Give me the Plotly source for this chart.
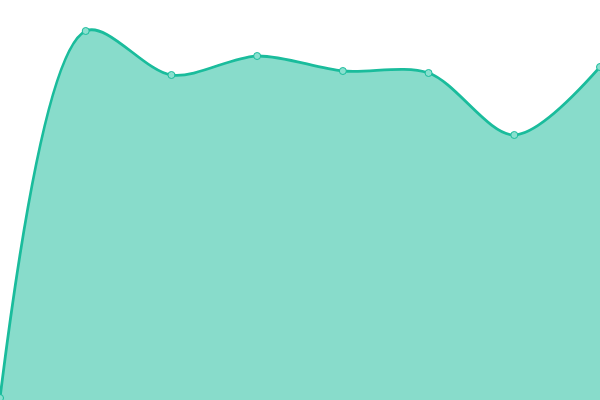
import plotly.graph_objects as go

# categories along the x axis and the single series' values
categories = [0, 1, 2, 3, 4, 5, 6, 7]
values = [2, 369, 325, 344, 329, 327, 265, 333]

LINE = "#1abc9c"
FILL = "rgba(26,188,156,0.52)"

fig = go.Figure()
fig.add_trace(
    go.Scatter(
        x=categories,
        y=values,
        mode="lines+markers",
        fill="tozeroy",
        fillcolor=FILL,
        line=dict(color=LINE, width=2.8, shape="spline", smoothing=0.9),
        marker=dict(size=7, color="#8ae0cf", line=dict(color=LINE, width=1)),
        hoverinfo="skip",
    )
)

fig.update_layout(
    margin=dict(l=0, r=0, t=0, b=0),
    paper_bgcolor="white",
    plot_bgcolor="white",
    showlegend=False,
)
fig.update_xaxes(visible=False, range=[0, 7])
fig.update_yaxes(visible=False, range=[0, 400])

# fill the browser window edge to edge, no modebar
fig.write_html(
    "out.html",
    config={"displayModeBar": False},
    default_width="100vw",
    default_height="100vh",
    post_script="document.body.style.margin='0';document.body.style.overflow='hidden';",
)
